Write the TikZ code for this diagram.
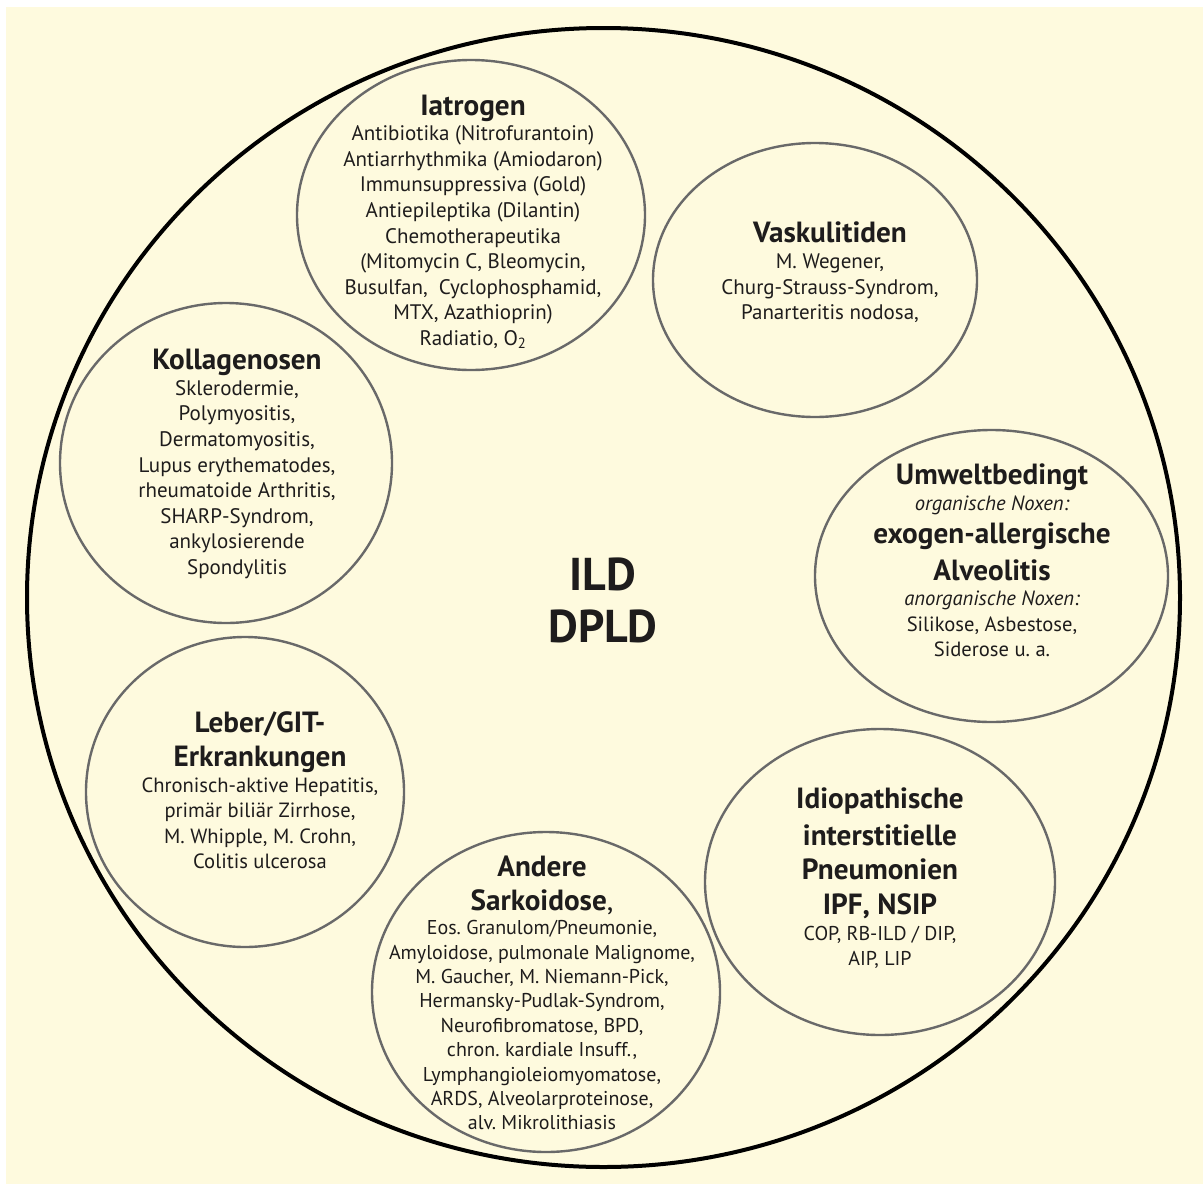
\documentclass[tikz,border=0pt]{standalone}
\usepackage{fontspec}
\setmainfont{PT Sans}
\usetikzlibrary{shapes.geometric}
\definecolor{cream}{RGB}{254,250,222}
\definecolor{ringgray}{RGB}{105,105,105}
\definecolor{ink}{RGB}{30,28,28}
\newcommand{\ttl}{\bfseries\fontsize{29.2}{30}\selectfont}
\frenchspacing
\begin{document}
\begin{tikzpicture}[x=1pt,y=-1pt,
  group/.style={draw=ringgray, line width=2.4pt, ellipse, inner sep=0pt},
  blurb/.style={align=center, inner sep=0pt, anchor=north, text=ink,
    font=\fontsize{21}{25.6}\selectfont},
]
% page and backdrop
\fill[white] (0,0) rectangle (1203,1184);
\fill[cream] (6,7) rectangle (1203,1184);

% outer ring
\node[draw=black, line width=4pt, ellipse, inner sep=0pt,
  minimum width=1153pt, minimum height=1139pt] (outer) at (603.5,597.5) {};

% category rings
\node[group, minimum width=348pt, minimum height=310pt] (iatro)  at (471,215) {};
\node[group, minimum width=324pt, minimum height=274pt] (vask)   at (815,280) {};
\node[group, minimum width=353pt, minimum height=292pt] (umwelt) at (991.5,576) {};
\node[group, minimum width=350pt, minimum height=306pt] (idio)   at (880,882) {};
\node[group, minimum width=348pt, minimum height=320pt] (andere) at (546,992) {};
\node[group, minimum width=318pt, minimum height=310pt] (leber)  at (245,792) {};
\node[group, minimum width=332pt, minimum height=320pt] (kolla)  at (226,463) {};

% centre label
\node[align=center, text=ink, font=\bfseries\fontsize{46}{52}\selectfont] (ild) at (603,600) {ILD\\DPLD};

% category texts
\node[blurb] (iatroT) at (473,94.5) {{\ttl Iatrogen}\\
  Antibiotika (Nitrofurantoin)\\
  Antiarrhythmika (Amiodaron)\\
  Immunsuppressiva (Gold)\\
  Antiepileptika (Dilantin)\\
  Chemotherapeutika\\
  (Mitomycin C, Bleomycin,\\
  Busulfan,\ \ Cyclophosphamid,\\
  MTX, Azathioprin)\\
  Radiatio, O\textsubscript{2}};

\node[blurb] (vaskT) at (830,222) {{\ttl Vaskulitiden}\\
  M. Wegener,\\
  Churg-Strauss-Syndrom,\\
  Panarteritis nodosa,};

\node[blurb, font=\fontsize{20.6}{25.6}\selectfont] (umweltT) at (992,464) {{\ttl Umweltbedingt}\\
  {\itshape organische Noxen:}\\[7pt]
  {\ttl exogen-allergische}\\[9pt]
  {\ttl Alveolitis}\\
  {\itshape anorganische Noxen:}\\
  Silikose, Asbestose,\\
  Siderose u. a.};

\node[blurb, font=\fontsize{20}{25.6}\selectfont] (idioT) at (880,788) {{\ttl Idiopathische}\\[8.9pt]
  {\ttl interstitielle}\\[8.9pt]
  {\ttl Pneumonien}\\[8.9pt]
  {\ttl IPF, NSIP}\\
  COP, RB-ILD / DIP,\\
  AIP, LIP};

\node[blurb, font=\fontsize{20}{24.4}\selectfont] (andereT) at (542,855.5) {{\ttl Andere}\\[9.6pt]
  {\ttl Sarkoidose}{\fontsize{29.2}{30}\selectfont,}\\
  Eos. Granulom/Pneumonie,\\
  Amyloidose, pulmonale Malignome,\\
  M. Gaucher, M. Niemann-Pick,\\
  Hermansky-Pudlak-Syndrom,\\
  Neurofibromatose, BPD,\\
  chron. kardiale Insuff.,\\
  Lymphangioleiomyomatose,\\
  ARDS, Alveolarproteinose,\\
  alv. Mikrolithiasis};

\node[blurb] (kollaT) at (237,349) {{\ttl Kollagenosen}\\
  Sklerodermie,\\
  Polymyositis,\\
  Dermatomyositis,\\
  Lupus erythematodes,\\
  rheumatoide Arthritis,\\
  SHARP-Syndrom,\\
  ankylosierende\\
  Spondylitis};

\node[blurb, font=\fontsize{20.6}{25.6}\selectfont] (leberT) at (260,711) {{\ttl Leber/GIT-}\\[8.9pt]
  {\ttl Erkrankungen}\\
  Chronisch-aktive Hepatitis,\\
  primär biliär Zirrhose,\\
  M. Whipple, M. Crohn,\\
  Colitis ulcerosa};
\end{tikzpicture}
\end{document}
